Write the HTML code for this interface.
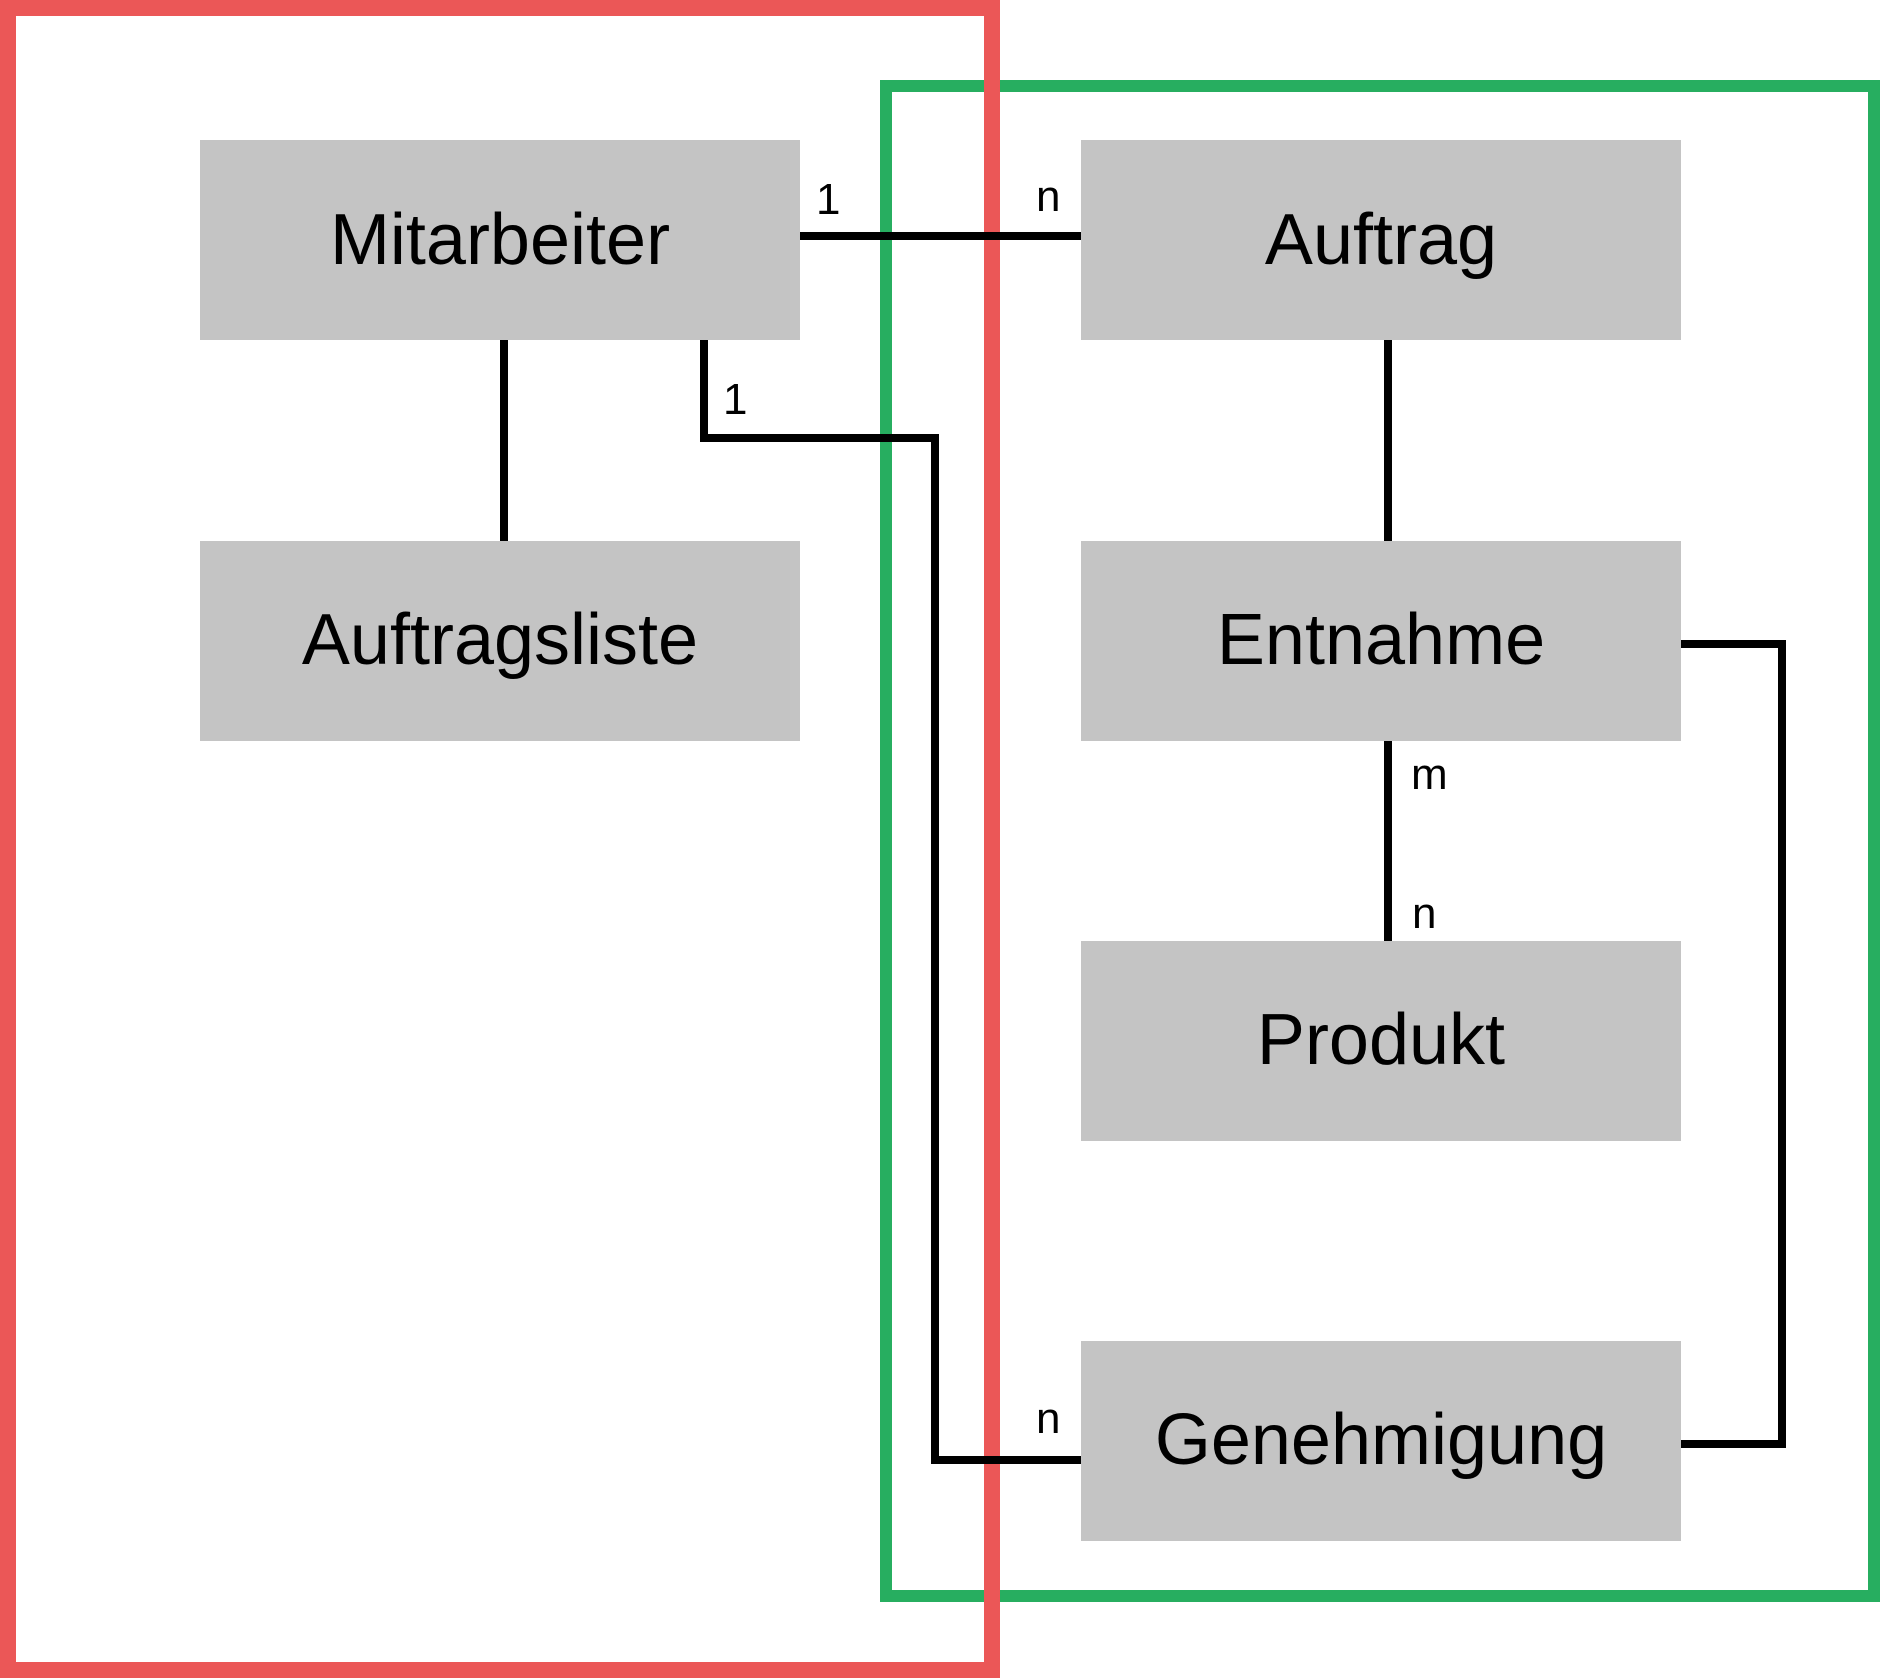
<!DOCTYPE html>
<html><head><meta charset="utf-8"><style>html,body{margin:0;padding:0;background:#fff}svg{display:block}</style></head>
<body>
<svg width="1880" height="1680" viewBox="0 0 1880 1680" xmlns="http://www.w3.org/2000/svg" font-family="Liberation Sans, DejaVu Sans, sans-serif">
<rect x="886" y="86" width="988" height="1510" fill="none" stroke="#27ae60" stroke-width="12"/>
<rect x="8" y="8" width="984" height="1662" fill="none" stroke="#eb5757" stroke-width="16"/>
<g stroke="#000" stroke-width="8" fill="none">
<line x1="800" y1="236" x2="1081" y2="236"/>
<line x1="504" y1="340" x2="504" y2="541"/>
<polyline points="704,340 704,438 935,438 935,1460 1081,1460"/>
<line x1="1388" y1="340" x2="1388" y2="541"/>
<line x1="1388" y1="741" x2="1388" y2="941"/>
<polyline points="1681,644 1782,644 1782,1444 1681,1444"/>
</g>
<g fill="#c4c4c4">
<rect x="200" y="140" width="600" height="200"/>
<rect x="1081" y="140" width="600" height="200"/>
<rect x="200" y="541" width="600" height="200"/>
<rect x="1081" y="541" width="600" height="200"/>
<rect x="1081" y="941" width="600" height="200"/>
<rect x="1081" y="1341" width="600" height="200"/>
</g>
<g font-size="72" text-anchor="middle" fill="#000">
<text x="500" y="264">Mitarbeiter</text>
<text x="1381" y="264">Auftrag</text>
<text x="500" y="664">Auftragsliste</text>
<text x="1381" y="664">Entnahme</text>
<text x="1381" y="1064">Produkt</text>
<text x="1381" y="1464">Genehmigung</text>
</g>
<g font-size="44" fill="#000">
<text x="816" y="214">1</text>
<text x="1036" y="211">n</text>
<text x="723" y="414">1</text>
<text x="1036" y="1433">n</text>
<text x="1411" y="789">m</text>
<text x="1412" y="928">n</text>
</g>
</svg>
</body></html>
